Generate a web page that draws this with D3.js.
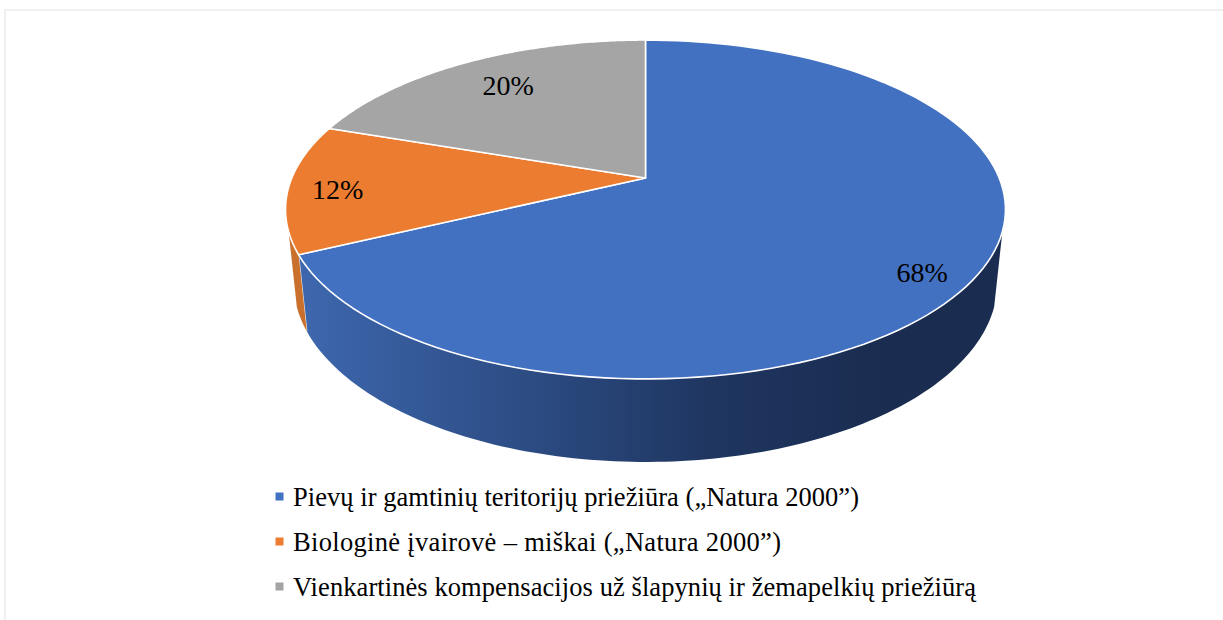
<!DOCTYPE html>
<html><head><meta charset="utf-8">
<script src="https://cdn.jsdelivr.net/npm/d3@7/dist/d3.min.js"></script>
<style>html,body{margin:0;padding:0;background:#fff}svg{display:block}</style>
</head><body><svg id="c" width="1223" height="620"></svg>
<script>
const categories = ["Pievų ir gamtinių teritorijų priežiūra („Natura 2000”)",
  "Biologinė įvairovė – miškai („Natura 2000”)",
  "Vienkartinės kompensacijos už šlapynių ir žemapelkių priežiūrą"];
const values = [67.9, 12.3, 19.8];
const labels = ["68%", "12%", "20%"];
const colors = ["#4371C2", "#EC7C30", "#A5A5A5"];
const sideColors = [null, "#C8702C", null];
const labelRadius = [0.877, 0.862, 0.763];
const labelAngle = [126.3, 265.2, 325.4];

// projection constants
const cx = 645.5, cy = 178, A = 353.7, B = 163.6, k = 0.1858, Dy = 73.9, De = 0.02225;
const rad = d3.scaleLinear().domain([0, 360]).range([0, 2 * Math.PI]);
function proj(a, r, low) {
  const u = Math.sin(a) * r, v = -Math.cos(a) * r;
  const w = 1 - k * v + (low ? De : 0);
  return [cx + A * u / w, cy + (B * v + (low ? Dy : 0)) / w];
}
function arcPts(a0, a1, r, low) {
  return d3.range(0, 121).map(i => proj(a0 + (a1 - a0) * i / 120, r, low));
}
const line = d3.line();
const svg = d3.select("#c");
const font = "'Liberation Serif','Times New Roman',serif";

// frame
svg.append("line").attr("x1", 5).attr("x2", 5).attr("y1", 10).attr("y2", 620).attr("stroke", "#f0f0ee").attr("stroke-width", 2);
svg.append("line").attr("x1", 4).attr("x2", 1223).attr("y1", 10).attr("y2", 10).attr("stroke", "#f0f0ee").attr("stroke-width", 2);

const defs = svg.append("defs");
const grad = defs.append("linearGradient").attr("id", "side").attr("gradientUnits", "userSpaceOnUse")
  .attr("x1", 300).attr("x2", 880).attr("y1", 0).attr("y2", 0);
[[0, "#3E67AE"], [0.35, "#2E4F88"], [0.7, "#1F3661"], [1, "#1A2D50"]].forEach(s =>
  grad.append("stop").attr("offset", s[0]).attr("stop-color", s[1]));

const arcs = d3.pie().sort(null)(values);
const silhouetteR = rad(108), silhouetteL = rad(252);

// side walls
arcs.forEach((d, i) => {
  const a0 = Math.max(d.startAngle, silhouetteR), a1 = Math.min(d.endAngle, silhouetteL);
  if (a1 <= a0) return;
  const pts = arcPts(a0, a1, 1, false).concat(arcPts(a1, a0, 1, true));
  svg.append("path").attr("d", line(pts) + "Z")
    .attr("fill", sideColors[i] || "url(#side)");
  svg.append("path").attr("d", line([proj(a1, 1, false), proj(a1, 1, true)]))
    .attr("stroke", "#fff").attr("stroke-width", 1.2).attr("fill", "none").attr("opacity", i === 0 ? 0.8 : 0);
});

// top faces
arcs.forEach((d, i) => {
  const pts = [[cx, cy]].concat(arcPts(d.startAngle, d.endAngle, 1, false));
  svg.append("path").attr("d", line(pts) + "Z")
    .attr("fill", colors[i]).attr("stroke", "#fff").attr("stroke-width", 1.6).attr("stroke-linejoin", "round");
});

// data labels
labels.forEach((t, i) => {
  const p = proj(rad(labelAngle[i]), labelRadius[i], false);
  svg.append("text").attr("x", p[0]).attr("y", p[1] + 9.5).attr("text-anchor", "middle")
    .attr("font-family", font).attr("font-size", 28).attr("fill", "#000").text(t);
});

// legend
const legendY = d3.scalePoint().domain(categories).range([506, 596]);
const legendWidth = [566, 488, 683];
categories.forEach((c, i) => {
  const y = legendY(c);
  svg.append("rect").attr("x", 275.5).attr("y", y - 13.5).attr("width", 8).attr("height", 8).attr("fill", colors[i]);
  svg.append("text").attr("x", 293).attr("y", y).attr("font-family", font).attr("font-size", 26.5)
    .attr("fill", "#000").attr("textLength", legendWidth[i]).attr("lengthAdjust", "spacing").text(c);
});
</script></body></html>
